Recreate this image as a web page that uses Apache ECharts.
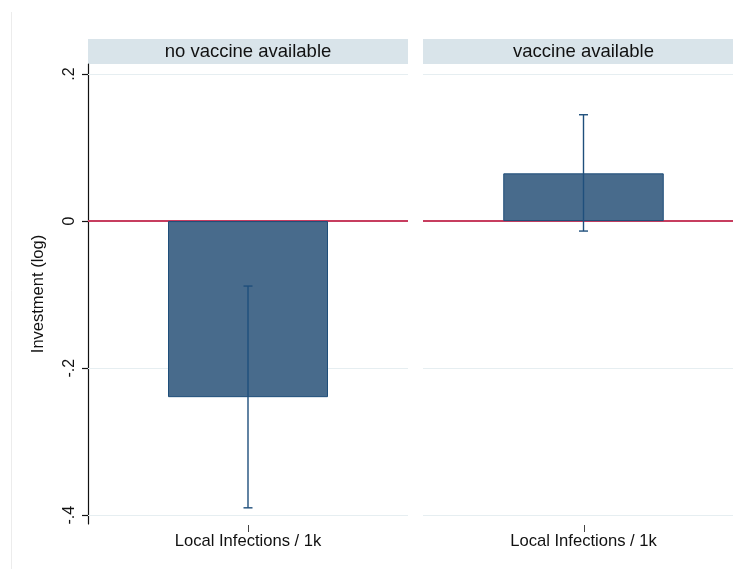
<!DOCTYPE html>
<html>
<head>
<meta charset="utf-8">
<script src="https://cdn.jsdelivr.net/npm/echarts@6/dist/echarts.min.js"></script>
<style>
html,body{margin:0;padding:0;background:#fff;overflow:hidden;width:733px;height:569px;}
#chart{width:744px;height:569px;}
</style>
</head>
<body>
<div id="chart"></div>
<script>
// ---- data ----
const panels = ['no vaccine available', 'vaccine available'];
const categories = ['Local Infections / 1k'];
const barValues = [-0.2395, 0.0649];
const ciLow = [-0.390, -0.0136];
const ciHigh = [-0.0884, 0.1446];
const yTickValues = [-0.4, -0.2, 0, 0.2];
const yTickLabels = ['-.4', '-.2', '0', '.2'];
const yTitle = 'Investment (log)';
const yMin = -0.412, yMax = 0.2136;

const FONT = '"Liberation Sans", Arial, sans-serif';
const barFill = '#486b8c';
const barEdge = '#1f4e79';
const refColor = '#c73d5f';
const gridColor = '#e6eef1';

const chart = echarts.init(document.getElementById('chart'), null, {renderer: 'canvas'});

const grids = [
  {left: 88, top: 64, width: 320, height: 460},
  {left: 423, top: 64, width: 321, height: 460}
];

const xAxes = grids.map((g, i) => ({
  type: 'category', gridIndex: i, data: categories,
  axisLine: {show: false},
  axisTick: {show: false},
  axisLabel: {color: '#111', fontFamily: FONT, fontSize: 16.6, margin: 9},
  splitLine: {show: false}
}));

const yAxes = grids.map((g, i) => ({
  type: 'value', gridIndex: i, min: yMin, max: yMax,
  name: i === 0 ? yTitle : '',
  nameLocation: 'middle', nameRotate: 90, nameGap: 41,
  nameTextStyle: {color: '#111', fontFamily: FONT, fontSize: 16.5},
  axisLine: {show: i === 0, lineStyle: {color: '#111', width: 1.2}},
  axisTick: {show: i === 0, length: 6, customValues: yTickValues, lineStyle: {color: '#111', width: 1.2}},
  axisLabel: {
    show: i === 0, rotate: 90, margin: 10, customValues: yTickValues,
    color: '#111', fontFamily: FONT, fontSize: 16,
    formatter: v => {
      const k = yTickValues.findIndex(t => Math.abs(t - v) < 1e-9);
      return k >= 0 ? yTickLabels[k] : '';
    }
  },
  splitLine: {show: false}
}));

const series = [];
grids.forEach((g, i) => {
  series.push({
    type: 'bar', xAxisIndex: i, yAxisIndex: i,
    data: [barValues[i]], barWidth: '50%',
    itemStyle: {color: barFill, borderColor: barEdge, borderWidth: 1},
    silent: true, z: 3,
    markLine: {
      silent: true, symbol: ['none', 'none'], label: {show: false},
      data: yTickValues.filter(v => v !== 0).map(v => ({yAxis: v, lineStyle: {color: gridColor, width: 1, type: 'solid'}}))
        .concat([{yAxis: 0, lineStyle: {color: refColor, width: 2, type: 'solid'}}]),
      z: 2
    }
  });
  series.push({
    type: 'custom', xAxisIndex: i, yAxisIndex: i,
    data: [[0, ciLow[i], ciHigh[i]]],
    z: 5, silent: true, clip: false,
    renderItem: (params, api) => {
      const x = api.coord([api.value(0), 0])[0];
      const lo = api.coord([api.value(0), api.value(1)])[1];
      const hi = api.coord([api.value(0), api.value(2)])[1];
      const cs = params.coordSys;
      const axisBottom = cs.y + cs.height;
      const hw = 4.5;
      const st = {stroke: '#1f4f7c', lineWidth: 1.4};
      return {type: 'group', children: [
        {type: 'line', shape: {x1: x, y1: lo, x2: x, y2: hi}, style: st},
        {type: 'line', shape: {x1: x - hw, y1: lo, x2: x + hw, y2: lo}, style: st},
        {type: 'line', shape: {x1: x - hw, y1: hi, x2: x + hw, y2: hi}, style: st},
        // category axis tick below the plot region
        {type: 'line', shape: {x1: Math.round(x) + 0.5, y1: axisBottom + 1, x2: Math.round(x) + 0.5, y2: axisBottom + 8}, style: {stroke: '#444', lineWidth: 1}}
      ]};
    }
  });
});

const graphics = [
  {type: 'line', shape: {x1: 11.5, y1: 12, x2: 11.5, y2: 569}, style: {stroke: '#ececec', lineWidth: 1}, silent: true}
];
grids.forEach((g, i) => {
  graphics.push({type: 'rect', shape: {x: g.left, y: 39, width: g.width, height: 25}, style: {fill: '#d9e4ea'}, silent: true});
  graphics.push({type: 'text', x: g.left + g.width / 2, y: 51.5,
    style: {text: panels[i], font: '18.5px ' + FONT, fill: '#111', align: 'center', verticalAlign: 'middle'}, silent: true});
});

chart.setOption({
  backgroundColor: '#ffffff',
  animation: false,
  grid: grids,
  xAxis: xAxes,
  yAxis: yAxes,
  series: series,
  graphic: graphics
});
</script>
</body>
</html>
